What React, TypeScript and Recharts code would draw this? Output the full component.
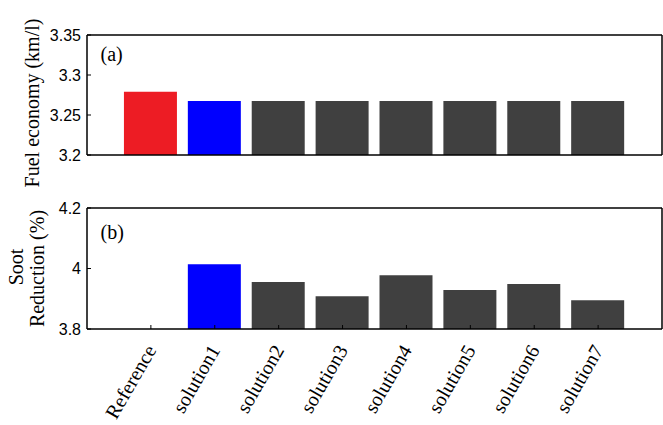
import React from 'react';
import { BarChart, Bar, XAxis, YAxis, Cell } from 'recharts';

const categories = ['Reference', 'solution1', 'solution2', 'solution3', 'solution4', 'solution5', 'solution6', 'solution7'];
const fuelEconomy = [3.279, 3.2675, 3.2675, 3.2675, 3.2675, 3.2675, 3.2675, 3.2675];
const sootReduction: (number | null)[] = [null, 4.014, 3.955, 3.908, 3.978, 3.929, 3.949, 3.895];
const fuelTicks = [3.2, 3.25, 3.3, 3.35];
const sootTicks = [3.8, 4, 4.2];

const barColors = ['#ED1C24', '#0000FF', '#404040', '#404040', '#404040', '#404040', '#404040', '#404040'];

const WIDTH = 663;
const HEIGHT = 425;
const PLOT_LEFT = 87;
const PLOT_RIGHT = 662;
const edgePad = (PLOT_RIGHT - PLOT_LEFT) / 18;

const fuelData = categories.map((name, i) => ({ name, value: fuelEconomy[i] }));
const sootData = categories.map((name, i) => ({ name, value: sootReduction[i] }));

const axisLine = { stroke: '#000', strokeWidth: 1.5 };
const tickLine = { stroke: '#000', strokeWidth: 1 };
const yTick = { fontFamily: 'Liberation Sans', fontSize: 16, fill: '#000' };
const serif = 'Liberation Serif';

const XLabel = (props: any) => {
  const { x, y, payload } = props;
  const ax = x + 6;
  return (
    <text
      x={ax}
      y={y}
      transform={`rotate(-60 ${ax} ${y})`}
      textAnchor="end"
      fontFamily={serif}
      fontSize={20}
      fill="#000"
    >
      {payload.value}
    </text>
  );
};

function Panel({ data, domain, ticks, top, height, bottomAxisHeight, bottomMargin, showLabels }: any) {
  return (
    <BarChart
      width={WIDTH}
      height={height}
      data={data}
      margin={{ top: top - 1, right: 0, bottom: bottomMargin, left: 0 }}
    >
      <XAxis
        dataKey="name"
        type="category"
        padding={{ left: edgePad, right: edgePad }}
        height={bottomAxisHeight}
        axisLine={axisLine}
        tickLine={tickLine}
        tickSize={-4}
        tickMargin={25}
        interval={0}
        tick={showLabels ? <XLabel /> : false}
      />
      <XAxis
        xAxisId="top"
        dataKey="name"
        type="category"
        orientation="top"
        padding={{ left: edgePad, right: edgePad }}
        height={1}
        axisLine={axisLine}
        tickLine={tickLine}
        tickSize={-4}
        interval={0}
        tick={false}
      />
      <YAxis
        type="number"
        domain={domain}
        ticks={ticks}
        width={PLOT_LEFT}
        axisLine={axisLine}
        tickLine={tickLine}
        tickSize={-4}
        tickMargin={10}
        tick={yTick}
        interval={0}
      />
      <YAxis
        yAxisId="right"
        orientation="right"
        type="number"
        domain={domain}
        ticks={ticks}
        width={1}
        axisLine={axisLine}
        tickLine={tickLine}
        tickSize={-4}
        tick={false}
        interval={0}
      />
      <Bar dataKey="value" barSize={53} isAnimationActive={false}>
        {data.map((d: any, i: number) => (
          <Cell key={d.name} fill={barColors[i]} />
        ))}
      </Bar>
    </BarChart>
  );
}

export default function App() {
  return (
    <div style={{ position: 'absolute', left: 0, top: 0, width: WIDTH, height: HEIGHT, background: '#fff' }}>
      <div style={{ position: 'absolute', left: 0, top: 0 }}>
        <Panel data={fuelData} domain={[3.2, 3.35]} ticks={fuelTicks} top={35} height={180} bottomAxisHeight={1} bottomMargin={24} showLabels={false} />
      </div>
      <div style={{ position: 'absolute', left: 0, top: 0 }}>
        <Panel data={sootData} domain={[3.8, 4.2]} ticks={sootTicks} top={208} height={HEIGHT} bottomAxisHeight={96} bottomMargin={0} showLabels={true} />
      </div>
      <svg width={WIDTH} height={HEIGHT} style={{ position: 'absolute', left: 0, top: 0, pointerEvents: 'none' }}>
        <g fontFamily={serif} fontSize={20} fill="#000">
          <text x={38.5} y={103} transform="rotate(-90 38.5 103)" textAnchor="middle">Fuel economy (km/l)</text>
          <text x={23} y={267} transform="rotate(-90 23 267)" textAnchor="middle">Soot</text>
          <text x={44} y={268.5} transform="rotate(-90 44 268.5)" textAnchor="middle">Reduction (%)</text>
          <text x={100.5} y={61}>(a)</text>
          <text x={100.5} y={239}>(b)</text>
        </g>
      </svg>
    </div>
  );
}
